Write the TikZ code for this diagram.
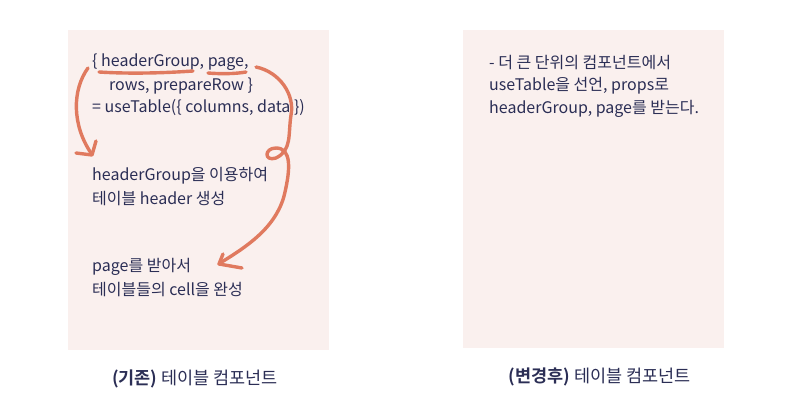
\documentclass[tikz,border=0pt]{standalone}
\usepackage{fontspec}
\setmainfont{Noto Sans CJK KR}
\newfontfamily\krbold{Noto Sans CJK KR Bold}
\definecolor{panelbg}{HTML}{FAF0EE}
\definecolor{ink}{HTML}{2B2E55}
\definecolor{pen}{HTML}{E07A5F}
\begin{document}
\begin{tikzpicture}[x=1pt,y=-1pt,
  panel/.style={fill=panelbg,draw=none},
  txt/.style={anchor=west,inner sep=0pt,text=ink,font=\fontsize{16}{23}\selectfont,align=left},
  captxt/.style={anchor=center,inner sep=0pt,text=ink,font=\fontsize{17.5}{20}\selectfont},
  stroke/.style={draw=pen,line width=3.4pt,line cap=round,line join=round}]
\useasboundingbox (0,0) rectangle (800,414);
\fill[white] (0,0) rectangle (800,414);
\path[panel] (68,30) rectangle (329,350);
\path[panel] (463,30) rectangle (724,348);
% left texts
\node[txt] (l1) at (92,62) {\{ headerGroup, page,};
\node[txt] (l2) at (109,86) {rows, prepareRow \}};
\node[txt] (l3) at (92,108) {= useTable(\{ columns, data \})};
\node[txt] (h1) at (92,176) {headerGroup을 이용하여};
\node[txt] (h2) at (92,199) {테이블 header 생성};
\node[txt] (p1) at (92,267) {page를 받아서};
\node[txt] (p2) at (92,290) {테이블들의 cell을 완성};
% right texts
\node[txt] (r1) at (489,63) {- 더 큰 단위의 컴포넌트에서};
\node[txt] (r2) at (489,86) {useTable을 선언, props로};
\node[txt] (r3) at (489,109) {headerGroup, page를 받는다.};
% captions
\node[captxt] (c1) at (195,379) {{\krbold (기존)} 테이블 컴포넌트};
\node[captxt] (c2) at (600,377) {{\krbold (변경후)} 테이블 컴포넌트};
% pen strokes
\draw[stroke] (99,72) .. controls (130,74) and (165,73) .. (193,71);
\draw[stroke] (208,73) .. controls (220,74) and (235,74) .. (246,72);
\draw[stroke] (88,68) .. controls (72,90) and (72,125) .. (91,153);
\draw[stroke] (76,153) -- (92,155) -- (96,141);
\draw[stroke] (256,67) .. controls (280,72) and (295,95) .. (291,115)
  .. controls (288,135) and (292,150) .. (276,158)
  .. controls (264,162) and (264,148) .. (276,148)
  .. controls (292,148) and (290,170) .. (285,192)
  .. controls (278,225) and (250,245) .. (220,263);
\draw[stroke] (223,254) -- (219,264) -- (242,268);
\end{tikzpicture}
\end{document}
